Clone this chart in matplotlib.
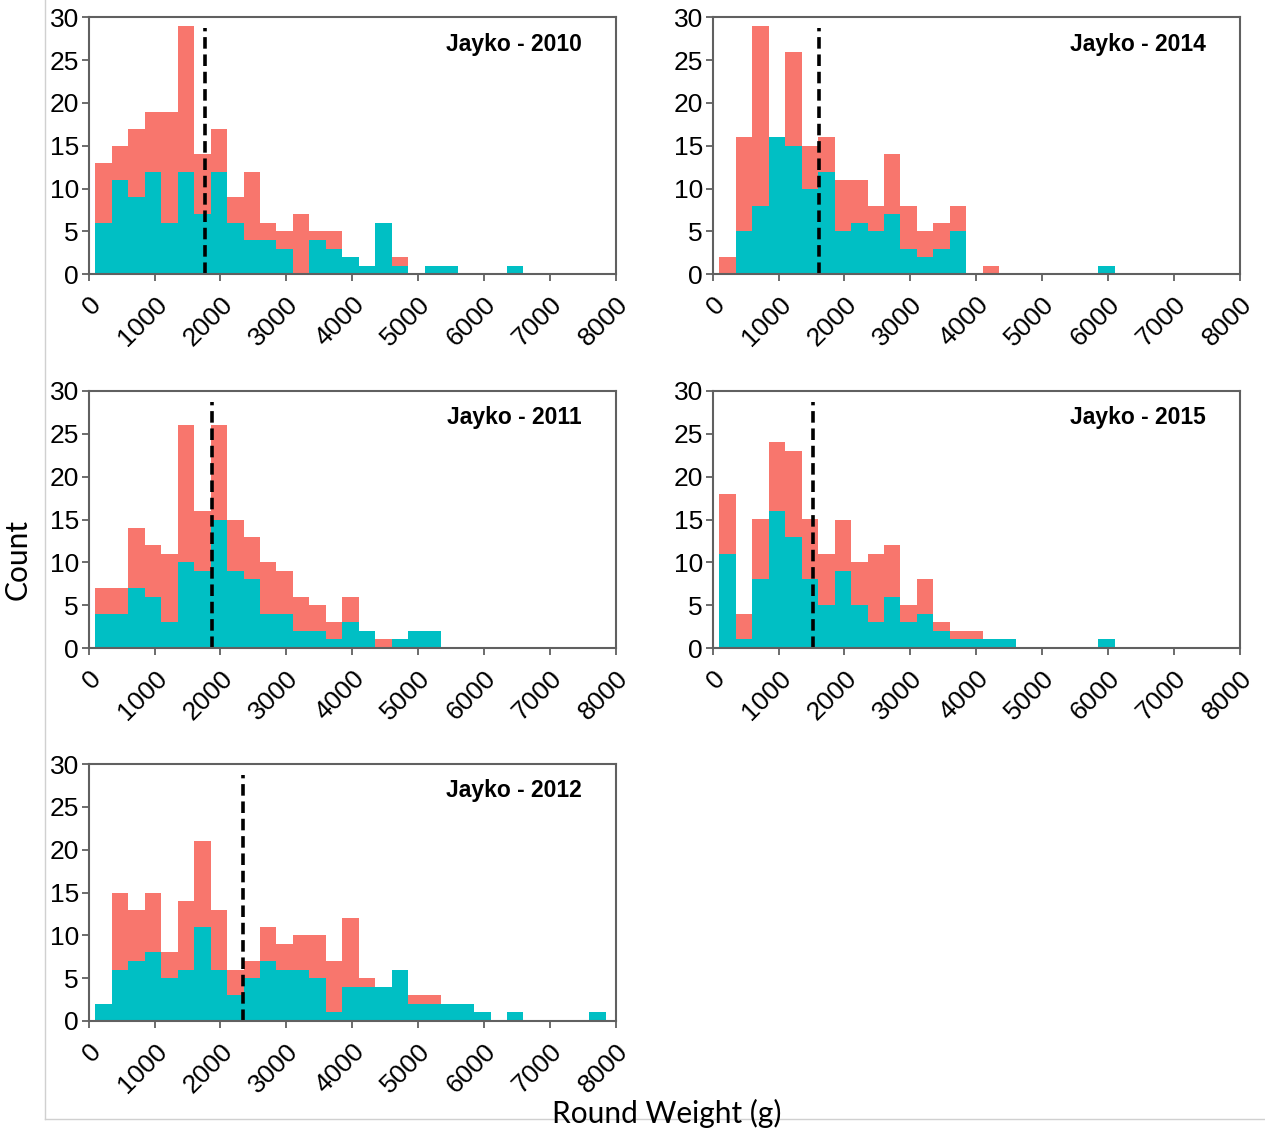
import numpy as np
import matplotlib.pyplot as plt
from matplotlib.lines import Line2D

plt.rcParams['font.family'] = ['Liberation Sans', 'DejaVu Sans']

# counts per 250 g bin, first bin starts at 100 g
BIN0 = 100
BINW = 250

years = ["2010", "2014", "2011", "2015", "2012"]

tot_2010 = [13, 15, 17, 19, 19, 29, 14, 17, 9, 12, 6, 5, 7, 5, 5, 2, 1, 6, 2, 0, 1, 1, 0, 0, 0, 1]
teal_2010 = [6, 11, 9, 12, 6, 12, 7, 12, 6, 4, 4, 3, 0, 4, 3, 2, 1, 6, 1, 0, 1, 1, 0, 0, 0, 1]

tot_2014 = [2, 16, 29, 16, 26, 15, 16, 11, 11, 8, 14, 8, 5, 6, 8, 0, 1, 0, 0, 0, 0, 0, 0, 1]
teal_2014 = [0, 5, 8, 16, 15, 10, 12, 5, 6, 5, 7, 3, 2, 3, 5, 0, 0, 0, 0, 0, 0, 0, 0, 1]

tot_2011 = [7, 7, 14, 12, 11, 26, 16, 26, 15, 13, 10, 9, 6, 5, 3, 6, 2, 1, 1, 2, 2]
teal_2011 = [4, 4, 7, 6, 3, 10, 9, 15, 9, 8, 4, 4, 2, 2, 1, 3, 2, 0, 1, 2, 2]

tot_2015 = [18, 4, 15, 24, 23, 15, 11, 15, 10, 11, 12, 5, 8, 3, 2, 2, 1, 1, 0, 0, 0, 0, 0, 1]
teal_2015 = [11, 1, 8, 16, 13, 8, 5, 9, 5, 3, 6, 3, 4, 2, 1, 1, 1, 1, 0, 0, 0, 0, 0, 1]

tot_2012 = [2, 15, 13, 15, 8, 14, 21, 13, 6, 7, 11, 9, 10, 10, 7, 12, 5, 4, 6, 3, 3, 2, 2, 1, 0, 1, 0, 0, 0, 0, 1]
teal_2012 = [2, 6, 7, 8, 5, 6, 11, 6, 3, 5, 7, 6, 6, 5, 1, 4, 4, 4, 6, 2, 2, 2, 2, 1, 0, 1, 0, 0, 0, 0, 1]

means = [1760, 1620, 1870, 1530, 2340]

totals = [tot_2010, tot_2014, tot_2011, tot_2015, tot_2012]
teals = [teal_2010, teal_2014, teal_2011, teal_2015, teal_2012]

RED = "#F8766D"
TEAL = "#00BFC4"
SPINE = "#606060"

W, H = 1265, 1134
fig = plt.figure(figsize=(W / 100, H / 100), dpi=100)

# axes boxes in pixels: left, top
boxes = [(88.7, 17.3), (712.7, 17.3), (88.7, 391), (712.7, 391), (88.7, 764)]
aw, ah = 527, 257

for i in range(5):
    l, t = boxes[i]
    ax = fig.add_axes([l / W, 1 - (t + ah) / H, aw / W, ah / H])
    tot = np.array(totals[i])
    tl = np.array(teals[i])
    x = BIN0 + BINW * np.arange(len(tot))
    ax.bar(x, tl, width=BINW, align="edge", color=TEAL, linewidth=0)
    ax.bar(x, tot - tl, bottom=tl, width=BINW, align="edge", color=RED, linewidth=0)
    ax.plot([means[i], means[i]], [0, 28.7], color="black", lw=2.6,
            linestyle=(0, (3.2, 1.6)))

    ax.set_xlim(0, 8000)
    ax.set_ylim(0, 30)
    ax.set_xticks(range(0, 8001, 1000))
    ax.set_yticks(range(0, 31, 5))
    ax.set_xticklabels([str(v) for v in range(0, 8001, 1000)], rotation=45,
                       ha="right", va="top", rotation_mode="anchor", fontsize=19)
    ax.set_yticklabels([str(v) for v in range(0, 31, 5)], fontsize=19)
    ax.tick_params(axis="both", colors=SPINE, labelcolor="black", width=1.3)
    ax.tick_params(axis="x", length=5, pad=8)
    ax.tick_params(axis="y", length=5, pad=2)
    for s in ax.spines.values():
        s.set_color(SPINE)
        s.set_linewidth(1.5)

    ax.text(0.935, 0.895, "Jayko - " + years[i], transform=ax.transAxes,
            ha="right", va="center", fontsize=16.5, fontweight="bold")

# frame lines from the slide
fig.add_artist(Line2D([45 / W, 45 / W], [1 - 1119 / H, 1], color="#d0d0d0", lw=1))
fig.add_artist(Line2D([45 / W, 1], [1 - 1119 / H, 1 - 1119 / H], color="#d0d0d0", lw=1))

fig.text(18 / W, 1 - 560 / H, "Count", rotation=90, ha="center", va="center",
         fontsize=21.5, family=["Lato", "DejaVu Sans"])
fig.text(667 / W, 1 - 1113 / H, "Round Weight (g)", ha="center", va="center",
         fontsize=21.5, family=["Lato", "DejaVu Sans"])

fig.savefig("out.png", dpi=100)
